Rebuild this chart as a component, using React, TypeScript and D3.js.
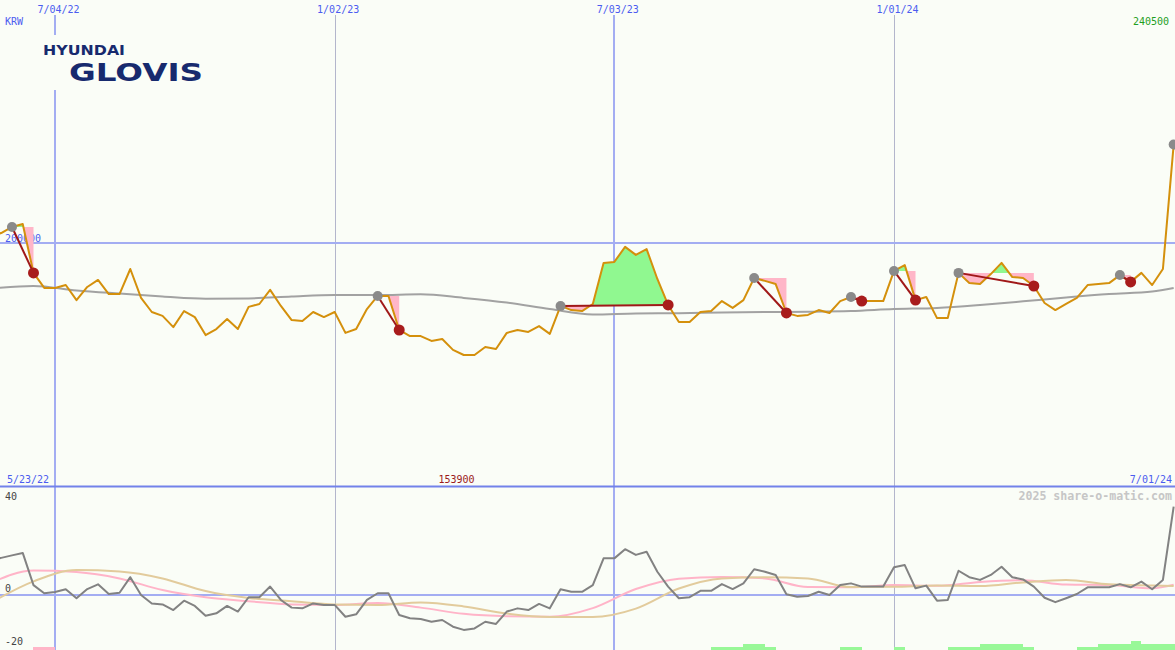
import React from "react";
import * as d3 from "d3";

const W = 1175;
const H = 650;
const START = Date.UTC(2022, 4, 23);
const WEEK = 7 * 86400000;

// weekly closing prices (KRW), 5/23/22 .. 7/01/24
const prices = [
  202900, 204100, 206600, 207800, 187700, 181500, 181500, 182700, 176500, 181900,
  184800, 179000, 179000, 189300, 177400, 171600, 170000, 165400, 172000, 169500,
  162100, 164600, 168700, 164600, 173700, 174900, 180700, 174100, 168300, 167900,
  171600, 169500, 171600, 163000, 164600, 172800, 178200, 178200, 164200, 161700,
  161700, 159700, 160500, 156000, 153900, 153900, 157200, 156400, 163000, 164200,
  163400, 165800, 162600, 174100, 172400, 172000, 174900, 191800, 192200, 198400,
  195100, 197500, 185200, 174500, 167500, 167500, 171600, 172000, 176100, 173300,
  176500, 185600, 184400, 183100, 171200, 170000, 170400, 172400, 171200, 176100,
  177800, 176100, 176100, 176100, 188500, 190900, 176500, 177800, 169100, 169100,
  187700, 183500, 183100, 187200, 191800, 186000, 185600, 182300, 175300, 172400,
  174900, 177400, 182700, 183100, 183500, 186800, 184000, 187700, 182700, 189300,
  240500,
];

// momentum oscillator (lower panel, grey)
const momentum = [
  14.1, 15.0, 16.0, 17.0, 4.0, 0.7, 1.2, 2.3, -1.3, 2.4,
  4.3, 0.4, 0.9, 7.2, 0, -3.4, -3.8, -6.1, -2.3, -4.4,
  -8.4, -7.4, -4.4, -6.7, -0.9, -0.9, 3.4, -2.0, -5.1, -5.4,
  -3.4, -4.0, -4.0, -8.8, -7.8, -2.0, 0.7, 0.7, -8.1, -9.4,
  -9.7, -10.8, -10.1, -12.8, -14.1, -13.5, -10.8, -11.7, -6.7, -5.4,
  -6.1, -3.6, -5.4, 2.3, 1.3, 1.3, 4.0, 14.8, 14.8, 18.5,
  16.2, 17.5, 9.4, 3.4, -1.3, -0.9, 1.7, 1.7, 4.4, 2.4,
  4.7, 10.4, 9.4, 8.1, 0.3, -0.7, -0.4, 1.3, 0, 4.0,
  4.7, 3.4, 3.4, 3.4, 11.2, 12.1, 2.7, 3.8, -2.3, -2.0,
  9.8, 7.2, 6.1, 8.1, 11.4, 7.2, 6.3, 3.4, -1.1, -2.9,
  -1.3, 0.4, 3.1, 3.1, 3.1, 4.4, 3.1, 5.4, 2.3, 6.1,
  35.7,
];

// smoothed series sampled at these week numbers
const sampleWeeks = [0, 4, 8, 12, 16, 20, 24, 28, 32, 36, 40, 44, 48, 52, 56, 60, 64, 68, 72, 76, 80, 84, 88, 92, 96, 100, 104, 108, 110];
const maValues = [181300, 182300, 180500, 179200, 178000, 177100, 177200, 178000, 178600, 178600, 178900, 177400, 175500, 172800, 170600, 171000, 171100, 171400, 171600, 171700, 172000, 172800, 173300, 174500, 176000, 177600, 179000, 180000, 181500];
const pinkValues = [4.8, 9.9, 9.3, 6.7, 2.0, -0.9, -2.5, -3.8, -4.0, -3.2, -5.1, -7.6, -8.6, -8.8, -5.3, 2.4, 6.6, 7.3, 6.7, 3.2, 3.1, 4.0, 3.7, 5.3, 6.0, 4.2, 4.0, 2.7, 4.2];
const tanValues = [-3.2, 5.5, 10.1, 9.5, 6.7, 1.6, -1.2, -2.5, -3.8, -4.0, -3.0, -4.6, -7.5, -8.9, -8.9, -5.5, 2.6, 6.7, 7.2, 6.7, 3.2, 3.3, 3.8, 3.6, 5.1, 6.1, 4.3, 3.8, 3.6];

// signals: start week (grey dot) and end week (red dot)
const signalStart = [2, 36, 53, 71, 80, 84, 90, 105, 110];
const signalEnd = [4, 38, 63, 74, 81, 86, 97, 106, -1];

// bottom histogram
const barWeeks = [4, 5, 67, 68, 69, 70, 71, 72, 79, 80, 84, 89, 90, 91, 92, 93, 94, 95, 96, 101, 102, 103, 104, 105, 106, 107, 108, 109, 110];
const barValues = [-1, -1, 1, 1, 1, 2, 2, 1, 1, 1, 1, 1, 1, 1, 2, 2, 2, 2, 1, 1, 1, 2, 2, 2, 3, 2, 2, 2, 2];

// date gridlines
const tickDates = [Date.UTC(2022, 6, 4), Date.UTC(2023, 0, 2), Date.UTC(2023, 6, 3), Date.UTC(2024, 0, 1)];
const tickLabels = ["7/04/22", "1/02/23", "7/03/23", "1/01/24"];
const tickMajor = [true, false, true, false];

const BG = "#fafdf7";
const MONO = "'DejaVu Sans Mono', monospace";
const BLUE_TXT = "#4b5cf0";
const GRID_BLUE = "#a3adf2";

export default function App() {
  const dates = prices.map((_, i) => new Date(START + i * WEEK));
  const wk = (i: number) => new Date(START + i * WEEK);
  const x = d3.scaleUtc().domain([dates[0], dates[dates.length - 1]]).range([-9.54, 1173.67]);
  const y = d3.scaleLinear().domain([100000, 300000]).range([486, 0]);
  const ym = d3.scaleLinear().domain([-20, 40]).range([644.5, 496]);
  const yb = d3.scaleLinear().domain([0, 3]).range([650, 641]);

  const priceLine = d3.line<number>().x((_, i) => x(dates[i])).y((d) => y(d))(prices) || "";
  const maLine = d3.line<number>().curve(d3.curveMonotoneX).x((_, i) => x(wk(sampleWeeks[i]))).y((d) => y(d))(maValues) || "";
  const momLine = d3.line<number>().x((_, i) => x(dates[i])).y((d) => ym(d))(momentum) || "";
  const pinkLine = d3.line<number>().curve(d3.curveMonotoneX).x((_, i) => x(wk(sampleWeeks[i]))).y((d) => ym(d))(pinkValues) || "";
  const tanLine = d3.line<number>().curve(d3.curveMonotoneX).x((_, i) => x(wk(sampleWeeks[i]))).y((d) => ym(d))(tanValues) || "";

  const minP = d3.min(prices) as number;
  const maxP = d3.max(prices) as number;
  const minIdx = prices.lastIndexOf(minP);

  const signals = signalStart.map((s, k) => {
    const e = signalEnd[k];
    const level = prices[s];
    const ly = y(level);
    let area = "";
    if (e >= 0) {
      const idx = d3.range(s, e + 1);
      area = d3.area<number>().x((i) => x(dates[i])).y0(ly).y1((i) => y(prices[i]))(idx) || "";
    }
    return { s, e, level, ly, area, k };
  });

  return (
    <div style={{ position: "fixed", left: 0, top: 0, width: W, height: H, background: BG }}>
      <svg width={W} height={H} style={{ display: "block" }}>
        <defs>
          {signals.map((sg) => (
            <React.Fragment key={sg.k}>
              <clipPath id={`up${sg.k}`}>
                <rect x={0} y={0} width={W} height={sg.ly} />
              </clipPath>
              <clipPath id={`dn${sg.k}`}>
                <rect x={0} y={sg.ly} width={W} height={486 - sg.ly} />
              </clipPath>
            </React.Fragment>
          ))}
        </defs>
        <rect x={0} y={0} width={W} height={H} fill={BG} />

        {/* vertical date gridlines */}
        {tickDates.map((t, k) => {
          const xv = Math.round(x(new Date(t)));
          return tickMajor[k] ? (
            <line key={k} x1={xv} x2={xv} y1={15} y2={H} stroke={GRID_BLUE} strokeWidth={2} />
          ) : (
            <line key={k} x1={xv + 0.5} x2={xv + 0.5} y1={15} y2={H} stroke="#b3b6cc" strokeWidth={1} />
          );
        })}
        {tickDates.map((t, k) => (
          <text key={k} x={x(new Date(t)) + 3.5} y={13} textAnchor="middle" fontFamily={MONO} fontSize={10} fill={BLUE_TXT}>
            {tickLabels[k]}
          </text>
        ))}

        {/* horizontal lines */}
        <line x1={0} x2={W} y1={y(200000)} y2={y(200000)} stroke={GRID_BLUE} strokeWidth={2} />
        <line x1={0} x2={W} y1={486.5} y2={486.5} stroke="#7282ea" strokeWidth={2} />
        <line x1={0} x2={W} y1={ym(0)} y2={ym(0)} stroke={GRID_BLUE} strokeWidth={2} />

        {/* logo */}
        <rect x={40} y={35} width={168} height={55} fill={BG} />
        <text x={43} y={55} fontFamily="'DejaVu Sans', sans-serif" fontWeight={700} fontSize={14} fill="#172a6e" textLength={82} lengthAdjust="spacingAndGlyphs">
          HYUNDAI
        </text>
        <text x={69} y={81} fontFamily="'DejaVu Sans', sans-serif" fontWeight={700} fontSize={24} fill="#172a6e" textLength={134} lengthAdjust="spacingAndGlyphs">
          GLOVIS
        </text>

        {/* labels */}
        <text x={5} y={25} fontFamily={MONO} fontSize={10} fill={BLUE_TXT}>KRW</text>
        <text x={1169} y={25} textAnchor="end" fontFamily={MONO} fontSize={10} fill="#1f9f1f">{maxP}</text>
        <text x={5} y={241.5} fontFamily={MONO} fontSize={10} fill={BLUE_TXT}>200000</text>
        <text x={7} y={483} fontFamily={MONO} fontSize={10} fill={BLUE_TXT}>5/23/22</text>
        <text x={x(dates[minIdx])} y={483} textAnchor="end" fontFamily={MONO} fontSize={10} fill="#9a1a1a">{minP}</text>
        <text x={1172} y={483} textAnchor="end" fontFamily={MONO} fontSize={10} fill={BLUE_TXT}>7/01/24</text>
        <text x={1172} y={499.5} textAnchor="end" fontFamily={MONO} fontSize={11.6} fontWeight={700} fill="#c6c6c6">2025 share-o-matic.com</text>
        <text x={5} y={ym(40) + 3.5} fontFamily={MONO} fontSize={10} fill="#444">40</text>
        <text x={5} y={ym(0) - 3} fontFamily={MONO} fontSize={10} fill="#444">0</text>
        <text x={5} y={ym(-20) + 0.5} fontFamily={MONO} fontSize={10} fill="#444">-20</text>

        {/* signal fills */}
        {signals.map((sg) =>
          sg.area ? (
            <g key={sg.k}>
              <path d={sg.area} fill="#90f890" clipPath={`url(#up${sg.k})`} />
              <path d={sg.area} fill="#ffb6c8" clipPath={`url(#dn${sg.k})`} />
            </g>
          ) : null
        )}

        {/* moving average and price */}
        <path d={maLine} fill="none" stroke="#a2a2a2" strokeWidth={2} />
        <path d={priceLine} fill="none" stroke="#d4900c" strokeWidth={2} strokeLinejoin="round" />

        {/* signal connectors and dots */}
        {signals.map((sg) => (
          <line
            key={sg.k}
            x1={x(dates[sg.s])}
            y1={sg.ly}
            x2={sg.e >= 0 ? x(dates[sg.e]) : x(dates[sg.s]) + 12}
            y2={sg.e >= 0 ? y(prices[sg.e]) : sg.ly}
            stroke="#a01818"
            strokeWidth={2}
          />
        ))}
        {signals.map((sg) => (
          <circle key={sg.k} cx={x(dates[sg.s])} cy={sg.ly} r={5} fill="#8a8a8a" />
        ))}
        {signals.map((sg) =>
          sg.e >= 0 ? <circle key={sg.k} cx={x(dates[sg.e])} cy={y(prices[sg.e])} r={5.5} fill="#a81c1c" /> : null
        )}

        {/* lower panel */}
        {barWeeks.map((w, k) => {
          const v = barValues[k];
          const x0 = x(wk(w));
          const x1 = x(wk(w + 1));
          return (
            <rect
              key={k}
              x={x0}
              y={yb(Math.abs(v))}
              width={x1 - x0}
              height={yb(0) - yb(Math.abs(v))}
              fill={v > 0 ? "#98f898" : "#ffb6c8"}
              shapeRendering="crispEdges"
            />
          );
        })}
        <path d={pinkLine} fill="none" stroke="#ffb4c8" strokeWidth={2} />
        <path d={tanLine} fill="none" stroke="#e2cb9c" strokeWidth={2} />
        <path d={momLine} fill="none" stroke="#828282" strokeWidth={2} strokeLinejoin="round" />
      </svg>
    </div>
  );
}
